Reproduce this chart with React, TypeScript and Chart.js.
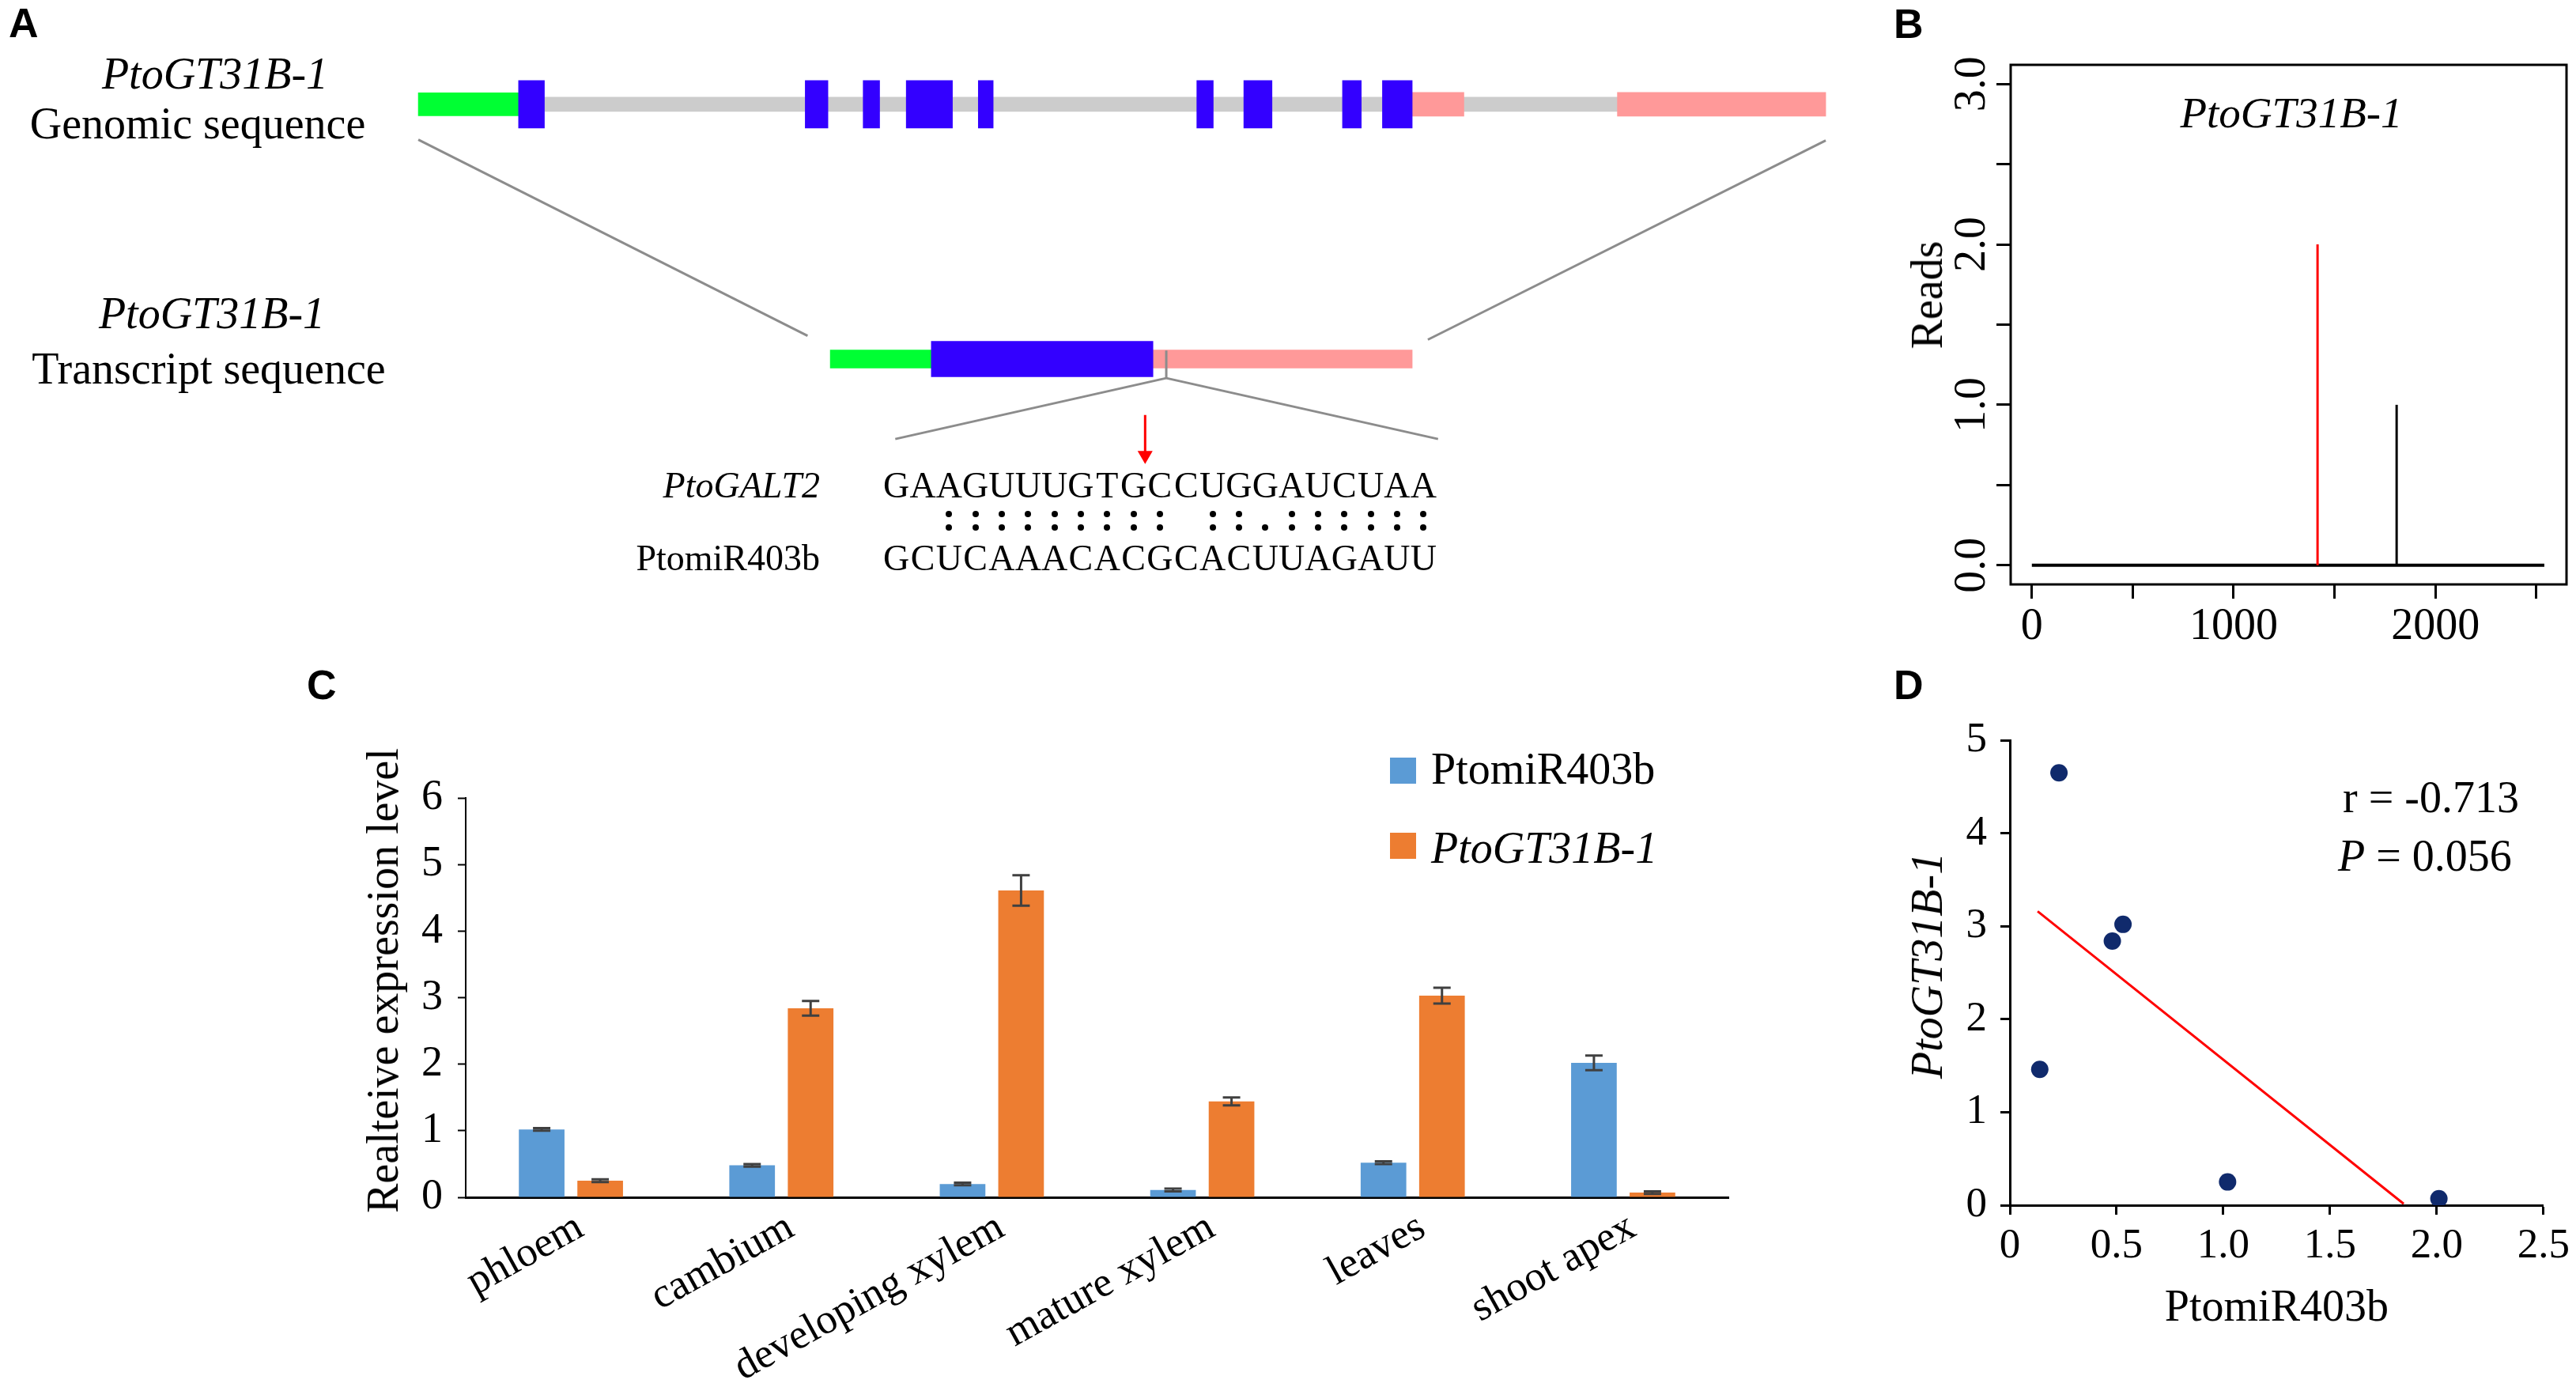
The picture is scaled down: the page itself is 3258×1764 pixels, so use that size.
import React, { useEffect, useRef } from 'react';
import { Chart, registerables } from 'chart.js';
Chart.register(...registerables);

const SERIF = "'Liberation Serif', 'Times New Roman', serif";
const SANS = "'Liberation Sans', Arial, sans-serif";
Chart.defaults.font.family = SERIF;
Chart.defaults.color = '#000';

// ---------------- Panel A : gene structure (diagram units) ----------------
const genomicUTR5 = [[0, 320]];
const genomicExons = [
  [320, 402.5], [1235, 1307.5], [1420, 1472.5], [1557.5, 1705], [1787.5, 1835],
  [2485, 2537.5], [2635, 2725], [2950, 3010], [3077.5, 3172.5],
];
const genomicUTR3 = [[3172.5, 3337.5], [3827.5, 4492.5]];
const genomicIntron = [[402.5, 3827.5]];
const transcriptUTR5 = [[1315, 1637.5]];
const transcriptCDS = [[1637.5, 2345]];
const transcriptUTR3 = [[2345, 3172.5]];
const cleavageSite = 2387.5;
const arrowSite = 2320;
const targetSeq = 'GAAGUUUGTGCCUGGAUCUAA';
const mirnaSeq = 'GCUCAAACACGCACUUAGAUU';
const pairing = '  ::::::::: ::.::::::';

// ---------------- Panel B : degradome reads ----------------
const geneLength = 2540;
const readPositions = [1416, 1808];
const readCounts = [2, 1];
const cleavageIndex = 0;
const bXTicks = [0, 500, 1000, 1500, 2000, 2500];
const bYTicks = [0, 0.5, 1, 1.5, 2, 2.5, 3];

// ---------------- Panel C : expression ----------------
const tissues = ['phloem', 'cambium', 'developing xylem', 'mature xylem', 'leaves', 'shoot apex'];
const mirExpr = [1.02, 0.48, 0.2, 0.11, 0.52, 2.02];
const mirErr = [0.02, 0.02, 0.02, 0.02, 0.02, 0.11];
const gtExpr = [0.25, 2.84, 4.61, 1.44, 3.03, 0.07];
const gtErr = [0.02, 0.11, 0.23, 0.06, 0.12, 0.02];
const cYTicks = [0, 1, 2, 3, 4, 5, 6];

// ---------------- Panel D : correlation ----------------
const dX = [1.02, 0.48, 0.23, 0.14, 0.53, 2.01];
const dY = [0.25, 2.84, 4.65, 1.46, 3.02, 0.07];
const fitX = [0.13, 1.845];
const fitY = [3.16, 0.015];
const dXTicks = [0, 0.5, 1, 1.5, 2, 2.5];
const dYTicks = [0, 1, 2, 3, 4, 5];

const ROW_G = 2;
const ROW_T = 1;
const BLUE = '#3300FF';
const GREEN = '#00FF33';
const PINK = '#FF9999';
const GREY = '#CCCCCC';
const LINE_GREY = '#8C8C8C';

function makeA(): any {
  const bar = (segs: number[][], row: number, color: string, thick: number) => ({
    type: 'bar', indexAxis: 'y', grouped: false, barThickness: thick,
    backgroundColor: color, borderWidth: 0,
    data: segs.map((s) => ({ x: s, y: row })),
  });
  const line = (pts: any[], color: string, w: number) => ({
    type: 'line', indexAxis: 'x', data: pts, borderColor: color, backgroundColor: color,
    borderWidth: w, pointRadius: 0, fill: false, tension: 0,
  });
  const gStart = genomicUTR5[0][0];
  const gEnd = genomicUTR3[genomicUTR3.length - 1][1];
  const tStart = transcriptUTR5[0][0];
  const tEnd = transcriptUTR3[0][1];
  return {
    type: 'bar',
    data: {
      datasets: [
        line([{ x: arrowSite, y: 0.78 }, { x: arrowSite, y: 0.628 }], '#FF0000', 3),
        {
          type: 'line', indexAxis: 'x', showLine: false, data: [{ x: arrowSite, y: 0.622 }],
          pointStyle: 'triangle', rotation: 180, pointRadius: 11, backgroundColor: '#FF0000', borderWidth: 0,
        },
        line([{ x: gStart, y: 1.861 }, { x: tStart - 72.5, y: 1.091 }], LINE_GREY, 3),
        line([{ x: gEnd, y: 1.858 }, { x: tEnd + 50, y: 1.076 }], LINE_GREY, 3),
        line([{ x: cleavageSite, y: 1.033 }, { x: cleavageSite, y: 0.925 }], LINE_GREY, 3),
        line([{ x: cleavageSite, y: 0.925 }, { x: 1522.5, y: 0.686 }], LINE_GREY, 3),
        line([{ x: cleavageSite, y: 0.925 }, { x: 3255, y: 0.686 }], LINE_GREY, 3),
        bar(genomicExons, ROW_G, BLUE, 60),
        bar(genomicUTR5, ROW_G, GREEN, 29),
        bar(genomicUTR3, ROW_G, PINK, 30),
        bar(genomicIntron, ROW_G, GREY, 18),
        bar(transcriptCDS, ROW_T, BLUE, 45),
        bar(transcriptUTR5, ROW_T, GREEN, 23),
        bar(transcriptUTR3, ROW_T, PINK, 23),
      ],
    },
    options: {
      animation: false, responsive: false, events: [], indexAxis: 'y',
      layout: { padding: 0 },
      plugins: { legend: { display: false }, tooltip: { enabled: false } },
      scales: {
        x: { type: 'linear', display: false, min: -1307.5, max: 4517.5 },
        y: { type: 'linear', display: false, min: -0.133, max: 2.375, offset: false },
      },
    },
  };
}

const boxPlugin = {
  id: 'boxPlugin',
  afterDraw(chart: any) {
    const { left, top, right, bottom } = chart.chartArea;
    const ctx = chart.ctx;
    ctx.save();
    ctx.strokeStyle = '#000';
    ctx.lineWidth = 3;
    ctx.strokeRect(left, top, right - left, bottom - top);
    ctx.restore();
  },
};

function makeB(): any {
  return {
    type: 'scatter',
    data: {
      datasets: [
        ...readPositions.map((p, i) => ({
          data: [{ x: p, y: 0 }, { x: p, y: readCounts[i] }], showLine: true,
          borderColor: i === cleavageIndex ? '#FF0000' : '#000', borderWidth: 3, pointRadius: 0,
        })),
        { data: [{ x: 0, y: 0 }, { x: geneLength, y: 0 }], showLine: true, borderColor: '#000', borderWidth: 4, pointRadius: 0 },
      ],
    },
    options: {
      animation: false, responsive: false, events: [],
      layout: { padding: { top: 82, right: 12, left: 0, bottom: 0 } },
      plugins: { legend: { display: false }, tooltip: { enabled: false } },
      scales: {
        x: {
          type: 'linear', min: -105, max: 2650,
          afterBuildTicks: (s: any) => { s.ticks = bXTicks.map((v) => ({ value: v })); },
          ticks: { autoSkip: false, maxRotation: 0, padding: 3, font: { size: 56 }, color: '#000',
            callback: (v: any) => (Number(v) % 1000 === 0 ? String(v) : '') },
          grid: { display: true, drawOnChartArea: false, drawTicks: true, tickLength: 18, tickColor: '#000', tickWidth: 3 },
          border: { display: false },
          afterFit: (s: any) => { s.height = 91; },
        },
        y: {
          type: 'linear', min: -0.12, max: 3.12,
          afterBuildTicks: (s: any) => { s.ticks = bYTicks.map((v) => ({ value: v })); },
          ticks: { autoSkip: false, minRotation: 90, maxRotation: 90, crossAlign: 'center', padding: -5,
            font: { size: 56 }, color: '#000',
            callback: (v: any) => (Number(v) % 1 === 0 ? Number(v).toFixed(1) : '') },
          grid: { display: true, drawOnChartArea: false, drawTicks: true, tickLength: 18, tickColor: '#000', tickWidth: 3 },
          border: { display: false },
          afterFit: (s: any) => { s.width = 213; },
        },
      },
    },
    plugins: [boxPlugin],
  };
}

const errorBarPlugin = {
  id: 'errorBars',
  afterDatasetsDraw(chart: any) {
    const ctx = chart.ctx;
    const ys = chart.scales.y;
    [mirErr, gtErr].forEach((errs, di) => {
      const meta = chart.getDatasetMeta(di);
      meta.data.forEach((el: any, i: number) => {
        const v = chart.data.datasets[di].data[i] as number;
        const t = ys.getPixelForValue(v + errs[i]);
        const b = ys.getPixelForValue(v - errs[i]);
        ctx.save();
        ctx.strokeStyle = '#404040';
        ctx.lineWidth = 3;
        ctx.beginPath();
        ctx.moveTo(el.x, t); ctx.lineTo(el.x, b);
        ctx.moveTo(el.x - 11, t); ctx.lineTo(el.x + 11, t);
        ctx.moveTo(el.x - 11, b); ctx.lineTo(el.x + 11, b);
        ctx.stroke();
        ctx.restore();
      });
    });
  },
};

function makeC(): any {
  return {
    type: 'bar',
    data: {
      labels: tissues,
      datasets: [
        { label: 'PtomiR403b', data: mirExpr, backgroundColor: '#5B9BD5', categoryPercentage: 0.556, barPercentage: 0.78 },
        { label: 'PtoGT31B-1', data: gtExpr, backgroundColor: '#ED7D31', categoryPercentage: 0.556, barPercentage: 0.78 },
      ],
    },
    options: {
      animation: false, responsive: false, events: [],
      layout: { padding: { top: 179, right: 64, left: 0, bottom: 0 } },
      plugins: { legend: { display: false }, tooltip: { enabled: false } },
      scales: {
        x: {
          grid: { display: false, drawTicks: false },
          border: { display: true, color: '#000', width: 3 },
          ticks: { autoSkip: false, minRotation: 29, maxRotation: 29, padding: 7, labelOffset: 12, font: { size: 53 }, color: '#000' },
          afterFit: (s: any) => { s.height = 250; },
        },
        y: {
          min: 0, max: 6,
          afterBuildTicks: (s: any) => { s.ticks = cYTicks.map((v) => ({ value: v })); },
          grid: { display: true, drawOnChartArea: false, drawTicks: true, tickLength: 10, tickColor: '#000', tickWidth: 2 },
          border: { display: true, color: '#000', width: 2 },
          ticks: { padding: 19, font: { size: 54 }, color: '#000' },
          afterFit: (s: any) => { s.width = 239; },
        },
      },
    },
    plugins: [errorBarPlugin],
  };
}

function makeD(): any {
  return {
    type: 'scatter',
    data: {
      datasets: [
        { data: dX.map((x, i) => ({ x, y: dY[i] })), backgroundColor: '#102A6C', borderColor: '#102A6C', pointRadius: 11, borderWidth: 0 },
        { type: 'line', data: fitX.map((x, i) => ({ x, y: fitY[i] })), borderColor: '#FF0000', borderWidth: 3, pointRadius: 0, fill: false },
      ],
    },
    options: {
      animation: false, responsive: false, events: [],
      layout: { padding: { top: 106, right: 37, left: 0, bottom: 0 } },
      plugins: { legend: { display: false }, tooltip: { enabled: false } },
      scales: {
        x: {
          type: 'linear', min: 0, max: 2.5,
          afterBuildTicks: (s: any) => { s.ticks = dXTicks.map((v) => ({ value: v })); },
          ticks: { autoSkip: false, maxRotation: 0, padding: 8, font: { size: 53 }, color: '#000',
            callback: (v: any) => (Number(v) === 0 ? '0' : Number(v).toFixed(1)) },
          grid: { display: true, drawOnChartArea: false, drawTicks: true, tickLength: 12, tickColor: '#000', tickWidth: 3 },
          border: { display: true, color: '#000', width: 3 },
          title: { display: true, text: 'PtomiR403b', font: { size: 56 }, color: '#000', padding: { top: 0, bottom: 75 } },
          afterFit: (s: any) => { s.height = 240; },
        },
        y: {
          type: 'linear', min: 0, max: 5,
          afterBuildTicks: (s: any) => { s.ticks = dYTicks.map((v) => ({ value: v })); },
          ticks: { autoSkip: false, padding: 17, font: { size: 53 }, color: '#000' },
          grid: { display: true, drawOnChartArea: false, drawTicks: true, tickLength: 12, tickColor: '#000', tickWidth: 3 },
          border: { display: true, color: '#000', width: 3 },
          afterFit: (s: any) => { s.width = 212; },
        },
      },
    },
  };
}

function ChartCanvas({ x, y, w, h, make }: { x: number; y: number; w: number; h: number; make: () => any }) {
  const ref = useRef<HTMLCanvasElement>(null);
  useEffect(() => {
    const c = new Chart(ref.current as HTMLCanvasElement, make());
    return () => c.destroy();
  }, []);
  return (
    <div style={{ position: 'absolute', left: x, top: y, width: w, height: h }}>
      <canvas ref={ref} width={w} height={h} style={{ display: 'block', width: w, height: h }} />
    </div>
  );
}

const W = 3258;
function Txt({ x, y, size, italic = false, bold = false, align = 'left', family = SERIF, children }: any) {
  const asc = family === SANS ? 0.8465 : 0.8375;
  const style: any = {
    position: 'absolute', top: y - asc * size, fontSize: size, lineHeight: `${size}px`,
    fontFamily: family, fontStyle: italic ? 'italic' : 'normal', fontWeight: bold ? 700 : 400,
    whiteSpace: 'nowrap', color: '#000',
  };
  if (align === 'left') style.left = x;
  else if (align === 'right') style.right = W - x;
  else { style.left = x; style.transform = 'translateX(-50%)'; }
  return <div style={style}>{children}</div>;
}

function VTxt({ x, y, size, italic = false, children }: any) {
  return (
    <div style={{ position: 'absolute', left: x, top: y, transform: 'translate(-50%, -50%) rotate(-90deg)', fontSize: size, lineHeight: `${size}px`, fontFamily: SERIF, fontStyle: italic ? 'italic' : 'normal', whiteSpace: 'nowrap', color: '#000' }}>{children}</div>
  );
}

const SEQ_X0 = 1117;
const SEQ_CW = 33.33;

export default function App() {
  return (
    <div style={{ position: 'absolute', left: 0, top: 0, width: W, height: 1764, background: '#fff', overflow: 'hidden' }}>
      <ChartCanvas x={0} y={0} w={2330} h={830} make={makeA} />
      <ChartCanvas x={2330} y={0} w={928} h={830} make={makeB} />
      <ChartCanvas x={350} y={830} w={1900} h={934} make={makeC} />
      <ChartCanvas x={2330} y={830} w={928} h={934} make={makeD} />

      {/* Panel A texts */}
      <Txt x={11} y={47} size={52} bold family={SANS}>A</Txt>
      <Txt x={272} y={112} size={56} italic align="center">PtoGT31B-1</Txt>
      <Txt x={250} y={175} size={56} align="center">Genomic sequence</Txt>
      <Txt x={268} y={415} size={56} italic align="center">PtoGT31B-1</Txt>
      <Txt x={264} y={485} size={56} align="center">Transcript sequence</Txt>
      <Txt x={1037} y={630} size={46} italic align="right">PtoGALT2</Txt>
      <Txt x={1037} y={722} size={46} align="right">PtomiR403b</Txt>
      {targetSeq.split('').map((c, i) => (
        <div key={'t' + i} style={{ position: 'absolute', left: SEQ_X0 + i * SEQ_CW, width: SEQ_CW, top: 630 - 0.8375 * 46, fontSize: 46, lineHeight: '46px', fontFamily: SERIF, textAlign: 'center' }}>{c}</div>
      ))}
      {mirnaSeq.split('').map((c, i) => (
        <div key={'m' + i} style={{ position: 'absolute', left: SEQ_X0 + i * SEQ_CW, width: SEQ_CW, top: 722 - 0.8375 * 46, fontSize: 46, lineHeight: '46px', fontFamily: SERIF, textAlign: 'center' }}>{c}</div>
      ))}
      {pairing.split('').map((c, i) => {
        const cx = SEQ_X0 + (i + 0.5) * SEQ_CW;
        const dots = c === ':' ? [650, 667] : c === '.' ? [667] : [];
        return dots.map((dy, k) => (
          <div key={'d' + i + '_' + k} style={{ position: 'absolute', left: cx - 4, top: dy - 4, width: 8, height: 8, borderRadius: 4, background: '#000' }} />
        ));
      })}

      {/* Panel B texts */}
      <Txt x={2395} y={48} size={52} bold family={SANS}>B</Txt>
      <Txt x={2898} y={161} size={55} italic align="center">PtoGT31B-1</Txt>
      <VTxt x={2437} y={373} size={56}>Reads</VTxt>

      {/* Panel C texts */}
      <Txt x={388} y={884} size={52} bold family={SANS}>C</Txt>
      <VTxt x={484} y={1240} size={56}>Realteive expression level</VTxt>
      <div style={{ position: 'absolute', left: 1758, top: 958, width: 33, height: 33, background: '#5B9BD5' }} />
      <Txt x={1810} y={991} size={56}>PtomiR403b</Txt>
      <div style={{ position: 'absolute', left: 1758, top: 1053, width: 33, height: 33, background: '#ED7D31' }} />
      <Txt x={1810} y={1091} size={56} italic>PtoGT31B-1</Txt>

      {/* Panel D texts */}
      <Txt x={2395} y={884} size={52} bold family={SANS}>D</Txt>
      <VTxt x={2437} y={1221} size={56} italic>PtoGT31B-1</VTxt>
      <Txt x={2963} y={1027} size={56}>r = -0.713</Txt>
      <Txt x={2957} y={1101} size={56}><i>P</i> = 0.056</Txt>
    </div>
  );
}
